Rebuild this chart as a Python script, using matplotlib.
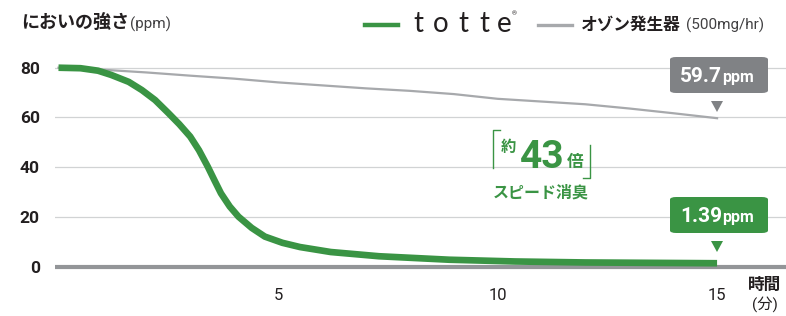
import matplotlib
matplotlib.use("Agg")
import matplotlib.pyplot as plt
from matplotlib.patches import FancyBboxPatch, Polygon
from matplotlib.lines import Line2D

plt.rcParams['font.family'] = ['Roboto', 'Noto Sans CJK JP', 'DejaVu Sans']

# ---- data ----
totte_t = [0, 0.5, 0.9, 1.2, 1.6, 1.9, 2.2, 2.5, 2.75, 3.0, 3.2, 3.4, 3.55, 3.7, 3.9, 4.1, 4.4, 4.7, 5.1, 5.5, 6.2, 7.3, 8.9, 10.4, 12.0, 15.0]
totte_v = [80, 79.8, 78.8, 77.1, 74.3, 71.0, 67.0, 61.8, 57.3, 52.3, 46.8, 40.2, 34.8, 29.5, 24.2, 20.1, 15.6, 12.1, 9.6, 7.9, 5.9, 4.2, 2.8, 2.1, 1.7, 1.39]
ozone_t = [0, 1, 2, 3, 4, 5, 6, 7, 8, 9, 10, 11, 12, 13, 14, 15]
ozone_v = [80, 79.2, 78.1, 76.8, 75.6, 74.1, 72.9, 71.7, 70.7, 69.4, 67.5, 66.4, 65.3, 63.6, 61.7, 59.7]
yticks = [0, 20, 40, 60, 80]
xticks = [5, 10, 15]
label_totte = "1.39"
label_ozone = "59.7"

GREEN = '#3a9444'
GRAYLINE = '#a7a9ac'
GRAYBOX = '#808285'
BASE = '#939598'
GRID = '#d1d3d4'
TXT = '#231f20'

W, H = 786, 316
fig = plt.figure(figsize=(W / 100, H / 100), dpi=100)
fig.patch.set_facecolor('white')


def px(x, y):
    return (x / W, 1 - y / H)


ax = fig.add_axes([55 / W, 1 - 275 / H, 1 - 55 / W, (275 - 60) / H])
ax.set_xlim(-0.08, 16.57)
ax.set_ylim(-3.34, 83.1)
for s in ax.spines.values():
    s.set_visible(False)
ax.set_facecolor('none')

for y in yticks[1:]:
    ax.axhline(y, color=GRID, lw=0.9, zorder=1)
ax.axhline(0, color=BASE, lw=3.0, zorder=2)

ax.plot(ozone_t, ozone_v, color=GRAYLINE, lw=1.6, zorder=3, solid_joinstyle='round')
ax.plot(totte_t, totte_v, color=GREEN, lw=4.8, zorder=4, solid_joinstyle='round', solid_capstyle='butt')

ax.set_yticks(yticks)
ax.set_yticklabels([str(v) for v in yticks], fontsize=12.5, fontweight='bold', color=TXT)
ax.set_xticks(xticks)
ax.set_xticklabels([str(v) for v in xticks], fontsize=12, color=TXT)
ax.tick_params(axis='both', length=0)
ax.tick_params(axis='y', pad=11)
ax.tick_params(axis='x', pad=9)

# axis unit labels
fig.text(*px(765, 285), "時間", fontsize=12, fontweight='bold', color=TXT, ha='center', va='center')
fig.text(*px(765, 304), "(分)", fontsize=11, color=TXT, ha='center', va='center')

# title
fig.text(*px(21, 23), "においの強さ", fontsize=13, fontweight='bold', color=TXT, ha='left', va='center')
fig.text(*px(130, 24), "(ppm)", fontsize=11, color='#414042', ha='left', va='center')

# legend
fig.add_artist(Line2D([365 / W, 398 / W], [1 - 25 / H] * 2, color=GREEN, lw=3.2, transform=fig.transFigure))
for ch, xx in zip("totte", [418, 441, 463, 484, 504]):
    fig.text(*px(xx, 32), ch, fontsize=20, fontweight='normal', family=['Lato', 'DejaVu Sans'],
             color=TXT, ha='center', va='baseline')
fig.text(*px(514, 14), "®", fontsize=4.5, color=TXT, ha='center', va='center')
fig.add_artist(Line2D([538 / W, 572 / W], [1 - 25 / H] * 2, color=GRAYLINE, lw=2.4, transform=fig.transFigure))
fig.text(*px(581, 25), "オゾン発生器", fontsize=12, fontweight='bold', color=TXT, ha='left', va='center')
fig.text(*px(686, 25), "(500mg/hr)", fontsize=11, color='#414042', ha='left', va='center')

# value boxes
def value_box(y0, y1, color, num, tri_y):
    box = FancyBboxPatch((670 / W, 1 - y1 / H), 98 / W, (y1 - y0) / H,
                         boxstyle="round,pad=0,rounding_size=0.008", transform=fig.transFigure,
                         facecolor=color, edgecolor='none', zorder=5)
    fig.add_artist(box)
    base = (y0 + y1) / 2 + 7
    fig.text(*px(722, base), num, fontsize=15, fontweight='bold', color='white', ha='right', va='baseline', zorder=6)
    fig.text(*px(722, base), "ppm", fontsize=11.5, fontweight='bold', color='white', ha='left', va='baseline', zorder=6)
    tri = Polygon([px(711, tri_y), px(723, tri_y), px(717, tri_y + 11)], closed=True,
                  transform=fig.transFigure, facecolor=color, edgecolor='none', zorder=5)
    fig.add_artist(tri)


value_box(57, 93, GRAYBOX, label_ozone, 101)
value_box(197, 233, GREEN, label_totte, 241)

# center annotation
fig.add_artist(Line2D([500 / W, 493 / W, 493 / W], [1 - 130 / H, 1 - 130 / H, 1 - 168 / H],
                      color=GREEN, lw=1.0, transform=fig.transFigure))
fig.add_artist(Line2D([583 / W, 590 / W, 590 / W], [1 - 178 / H, 1 - 178 / H, 1 - 145 / H],
                      color=GREEN, lw=1.0, transform=fig.transFigure))
fig.text(*px(508, 152), "約", fontsize=11, fontweight='bold', color=GREEN, ha='center', va='baseline')
fig.text(*px(542, 168), "43", fontsize=28, fontweight='bold', color=GREEN, ha='center', va='baseline')
fig.text(*px(575, 167), "倍", fontsize=12, fontweight='bold', color=GREEN, ha='center', va='baseline')
fig.text(*px(541, 193), "スピード消臭", fontsize=11.5, fontweight='bold', color=GREEN, ha='center', va='center')

fig.savefig("out.png", dpi=100, facecolor='white')
